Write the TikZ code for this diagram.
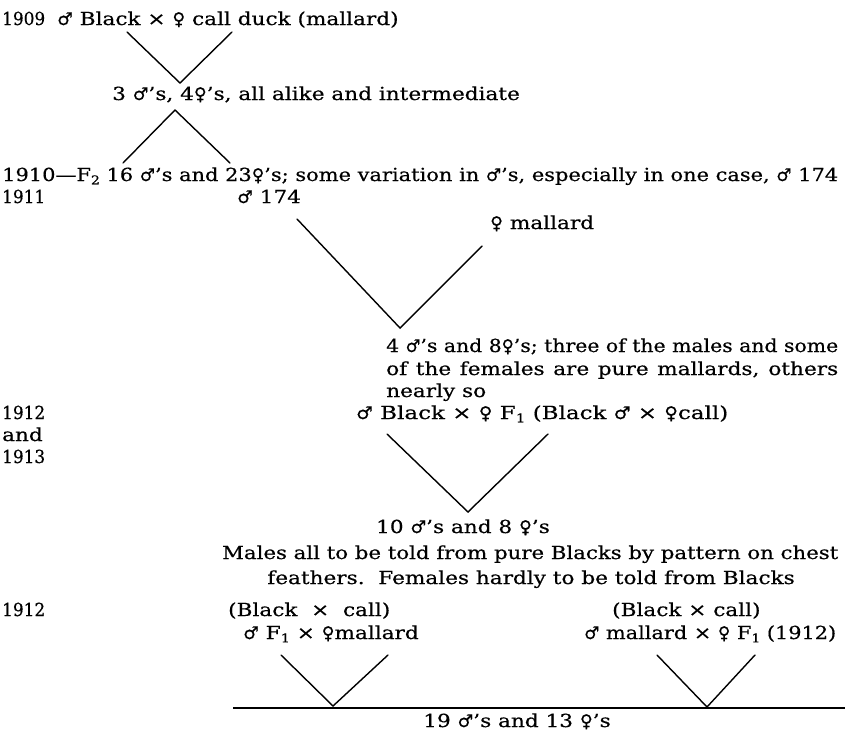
\documentclass[tikz,border=0pt]{standalone}
\usepackage{fontspec}
\usepackage{graphicx}
\setmainfont{DejaVu Serif}[FakeStretch=1.2,FakeBold=0.5]
\newfontfamily\symfont{DejaVu Sans}[FakeBold=0.5]
\newcommand\Mal{{\symfont\fontsize{17.5}{17.5}\selectfont ♂}}
\newcommand\Fem{{\symfont\fontsize{17.5}{17.5}\selectfont ♀}}
\newcommand\Sb[1]{\raisebox{-0.35ex}{\fontsize{12}{12}\selectfont #1}}
\newcommand\Wd[2]{\resizebox{#1pt}{\height}{#2}}
\begin{document}
\begin{tikzpicture}[x=1pt,y=-1pt,
  txt/.style={inner sep=0pt,anchor=base west,font=\fontsize{18}{22}\selectfont},
  ctxt/.style={inner sep=0pt,anchor=base,font=\fontsize{18}{22}\selectfont},
  vline/.style={line width=1.4pt,line cap=round}]
\fill[white] (0,0) rectangle (845,734);
\useasboundingbox (0,0) rectangle (845,734);
% row 1
\node[txt] (y1909) at (2,25) {\Wd{43}{1909}};
\node[txt] (c1) at (57,25) {\Mal{} Black × \Fem{} call duck (mallard)};
\coordinate (v1a) at (127,32);
\coordinate (v1b) at (232,32);
\coordinate (v1o) at (180,83);
\draw[vline] (v1a) -- (v1o) -- (v1b);
% row 2
\node[txt] (f1) at (112,100) {3 \Mal's, 4\Fem's, all alike and intermediate};
\coordinate (w1o) at (175,110);
\coordinate (w1a) at (123,163);
\coordinate (w1b) at (230,163);
\draw[vline] (w1a) -- (w1o) -- (w1b);
% row 3
\node[txt] (f2) at (2,181) {\Wd{836}{1910---F\Sb{2} 16 \Mal's and 23\Fem's; some variation in \Mal's, especially in one case, \Mal{} 174}};
\node[txt] (y1911) at (2,203) {\Wd{43}{1911}};
\node[txt] (m174) at (237,203) {\Mal{} 174};
\node[txt] (fmal) at (490,229) {\Fem{} mallard};
\coordinate (v2a) at (297,219);
\coordinate (v2b) at (482,246);
\coordinate (v2o) at (400,328);
\draw[vline] (v2a) -- (v2o) -- (v2b);
% block
\node[txt] (b1) at (386,352) {\Wd{452}{4 \Mal's and 8\Fem's; three of the males and some}};
\node[txt] (b2) at (386,375) {\makebox[452pt][s]{of the females are pure mallards, others}};
\node[txt] (b3) at (386,397) {nearly so};
% 1912-1913
\node[txt] (y1912a) at (2,419) {\Wd{43}{1912}};
\node[txt] (c2) at (356,419) {\Wd{372}{\Mal{} Black × \Fem{} F\Sb{1} (Black \Mal{} × \Fem{}call)}};
\node[txt] (and) at (2,441) {and};
\node[txt] (y1913) at (2,463) {\Wd{43}{1913}};
\coordinate (v3a) at (387,434);
\coordinate (v3b) at (548,434);
\coordinate (v3o) at (468,512);
\draw[vline] (v3a) -- (v3o) -- (v3b);
\node[ctxt] (f3) at (463,533) {10 \Mal's and 8 \Fem's};
\node[txt] (m1) at (222,559) {\Wd{616}{Males all to be told from pure Blacks by pattern on chest}};
\node[ctxt] (m2) at (531,584) {feathers.\ \ Females hardly to be told from Blacks};
% 1912 lower
\node[txt] (y1912b) at (2,616) {\Wd{43}{1912}};
\node[txt] (p1) at (228,616) {(Black \ × \ call)};
\node[txt] (p2) at (612,616) {(Black × call)};
\node[txt] (c4) at (243,639) {\Mal{} F\Sb{1} × \Fem{}mallard};
\node[txt] (c5) at (584,639) {\Wd{252}{\Mal{} mallard × \Fem{} F\Sb{1} (1912)}};
\coordinate (v4a) at (281,655);
\coordinate (v4b) at (388,655);
\coordinate (v4o) at (333,706);
\draw[vline] (v4a) -- (v4o) -- (v4b);
\coordinate (v5a) at (657,655);
\coordinate (v5b) at (755,655);
\coordinate (v5o) at (707,707);
\draw[vline] (v5a) -- (v5o) -- (v5b);
\coordinate (ra) at (233,708);
\coordinate (rb) at (845,708);
\draw[line width=1.1pt] (ra) -- (rb);
\node[ctxt] (f4) at (517,727) {19 \Mal's and 13 \Fem's};
\end{tikzpicture}
\end{document}
